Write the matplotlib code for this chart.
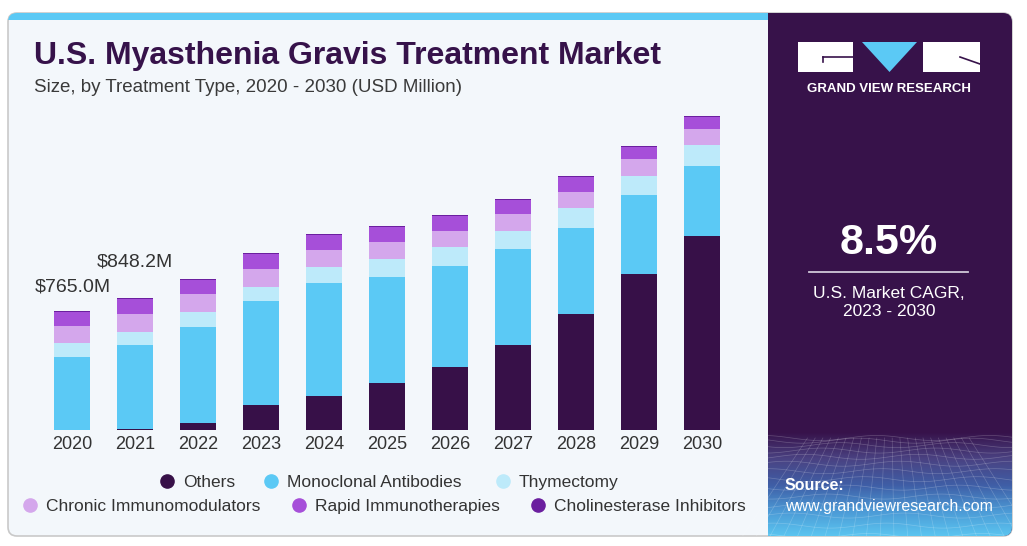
import numpy as np
import matplotlib
matplotlib.use('Agg')
import matplotlib.pyplot as plt
from matplotlib.patches import FancyBboxPatch, Rectangle, Polygon
from matplotlib.colors import LinearSegmentedColormap

# data (USD million)
years = ['2020', '2021', '2022', '2023', '2024', '2025', '2026', '2027', '2028', '2029', '2030']
others = [0, 6, 45, 158, 218, 299, 402, 545, 742, 1002, 1244]
mono = [470, 541, 617, 667, 722, 683, 651, 613, 555, 503, 447]
thymectomy = [85, 83, 94, 94, 103, 112, 118, 117, 124, 126, 138]
chronic = [113, 115, 113, 115, 111, 113, 104, 107, 106, 105, 99]
rapid = [91, 97, 92, 93, 97, 95, 97, 94, 95, 79, 79]
cholin = [6, 6, 6, 6, 6, 6, 6, 6, 6, 6, 6]

series_names = ['Others', 'Monoclonal Antibodies', 'Thymectomy',
                'Chronic Immunomodulators', 'Rapid Immunotherapies', 'Cholinesterase Inhibitors']
series_vals = [others, mono, thymectomy, chronic, rapid, cholin]
colors = ['#371048', '#5bc9f5', '#bdeafa', '#d4a7ec', '#a64fd9', '#6b1f9f']

labels = ['$765.0M', '$848.2M']
label_offsets = [15, 27]  # px above bar top

cagr = '8.5%'
cagr_text = 'U.S. Market CAGR,\n2023 - 2030'

W, H = 1027, 546
fig = plt.figure(figsize=(W / 100, H / 100), dpi=100)
fig.patch.set_facecolor('white')

# background / decoration axes in pixel coordinates
bg = fig.add_axes([0, 0, 1, 1], zorder=0)
bg.set_xlim(0, W)
bg.set_ylim(H, 0)
bg.axis('off')

panel_col = '#37124a'
card = FancyBboxPatch((8, 13), 1004, 523, boxstyle='round,pad=0,rounding_size=9',
                      facecolor='#f3f7fb', edgecolor='#c9c9c9', lw=1.2, zorder=1)
bg.add_patch(card)

strip = Rectangle((8, 13), 760, 7, facecolor='#5bc9f5', edgecolor='none', zorder=2)
bg.add_patch(strip)
strip.set_clip_path(card)

right = Rectangle((768, 13), 244, 523, facecolor=panel_col, edgecolor='none', zorder=2)
bg.add_patch(right)
right.set_clip_path(card)

# bottom gradient on right panel
cmap = LinearSegmentedColormap.from_list('g', [panel_col, '#4a4282', '#3f5ea6', '#4c9ad6', '#5cc8f2'])
grad = np.linspace(0, 1, 200).reshape(-1, 1)
im = bg.imshow(grad, extent=[768, 1012, 538, 432], cmap=cmap, aspect='auto', zorder=3)
im.set_clip_path(card)
# faint mesh
for k in range(14):
    t = k / 13
    yy = 438 + (t ** 1.4) * 98
    xs = np.linspace(768, 1012, 60)
    ln, = bg.plot(xs, yy + 2.5 * np.sin(xs / 18 + k), color='white', lw=0.5, alpha=0.22, zorder=4)
    ln.set_clip_path(card)
for k in range(22):
    xb = 740 + k * 14
    xt = 890 + (xb - 890) * 0.55
    ln, = bg.plot([xt, xb], [438, 540], color='white', lw=0.5, alpha=0.2, zorder=4)
    ln.set_clip_path(card)

# logo
bg.add_patch(Rectangle((798, 42), 55, 30, facecolor='white', edgecolor='none', zorder=5))
bg.plot([823, 853], [57, 57], color=panel_col, lw=1.2, zorder=6)
bg.plot([823, 823], [57, 62], color=panel_col, lw=1.2, zorder=6)
bg.add_patch(Polygon([(862, 42), (917, 42), (889.5, 72)], closed=True, facecolor='#5bc9f5',
                     edgecolor='none', zorder=5))
bg.add_patch(Rectangle((923, 42), 57, 30, facecolor='white', edgecolor='none', zorder=5))
bg.plot([960, 980], [57, 64], color=panel_col, lw=1.2, zorder=6)
bg.text(889, 89, 'GRAND VIEW RESEARCH', color='white', fontsize=9.5, fontweight='bold',
        ha='center', va='center', family='Liberation Sans', zorder=6)

bg.text(889, 243, cagr, color='white', fontsize=31, fontweight='bold', ha='center', va='center',
        family='Liberation Sans', zorder=6)
bg.plot([809, 968], [272, 272], color='#d0c8d8', lw=1.3, zorder=6)
bg.text(889, 302, cagr_text, color='white', fontsize=12.5, ha='center', va='center',
        family='Liberation Sans', linespacing=1.25, zorder=6)
bg.text(785, 486, 'Source:', color='white', fontsize=11.5, fontweight='bold', ha='left', va='center',
        family='Liberation Sans', zorder=6)
bg.text(785, 507, 'www.grandviewresearch.com', color='white', fontsize=11.5, ha='left', va='center',
        family='Liberation Sans', zorder=6)

# titles
bg.text(34, 56, 'U.S. Myasthenia Gravis Treatment Market', color='#36124a', fontsize=23,
        fontweight='bold', ha='left', va='center', family='Liberation Sans', zorder=6)
bg.text(34, 87, 'Size, by Treatment Type, 2020 - 2030 (USD Million)', color='#3a3a3a', fontsize=13.5,
        ha='left', va='center', family='Liberation Sans', zorder=6)

# legend
legend_pos = [(167, 481), (271, 481), (503, 481), (30, 505), (299, 505), (538, 505)]
for name, col, (lx, ly) in zip(series_names, colors, legend_pos):
    bg.plot([lx], [ly], 'o', color=col, markersize=9.5, zorder=6)
    bg.text(lx + 16, ly, name, color='#333333', fontsize=12.5, ha='left', va='center_baseline',
            family='Liberation Sans', zorder=6)

# main chart
px_per_unit = 63.0
base_px, top_px = 430, 100
left_px, right_px = 40, 735
val_per_px = 6.41
ax = fig.add_axes([left_px / W, (H - base_px) / H, (right_px - left_px) / W, (base_px - top_px) / H],
                  zorder=2)
ax.patch.set_alpha(0)
x = np.arange(len(years))
bottom = np.zeros(len(years))
for vals, col in zip(series_vals, colors):
    ax.bar(x, vals, width=0.57, bottom=bottom, color=col, edgecolor='none')
    bottom += np.array(vals)

xmin = -(72.3 - left_px) / px_per_unit
ax.set_xlim(xmin, xmin + (right_px - left_px) / px_per_unit)
ax.set_ylim(0, (base_px - top_px) * val_per_px)
for s in ax.spines.values():
    s.set_visible(False)
ax.set_yticks([])
ax.set_xticks(x)
ax.set_xticklabels(years, fontsize=13, color='#333333', family='Liberation Sans')
ax.tick_params(axis='x', length=0, pad=4)

for i, (lab, off) in enumerate(zip(labels, label_offsets)):
    ax.annotate(lab, xy=(i, bottom[i]), xytext=(0, off * 0.72), textcoords='offset points',
                ha='center', va='bottom', fontsize=14, color='#333333', family='Liberation Sans')

fig.savefig('out.png', dpi=100, facecolor='white')
